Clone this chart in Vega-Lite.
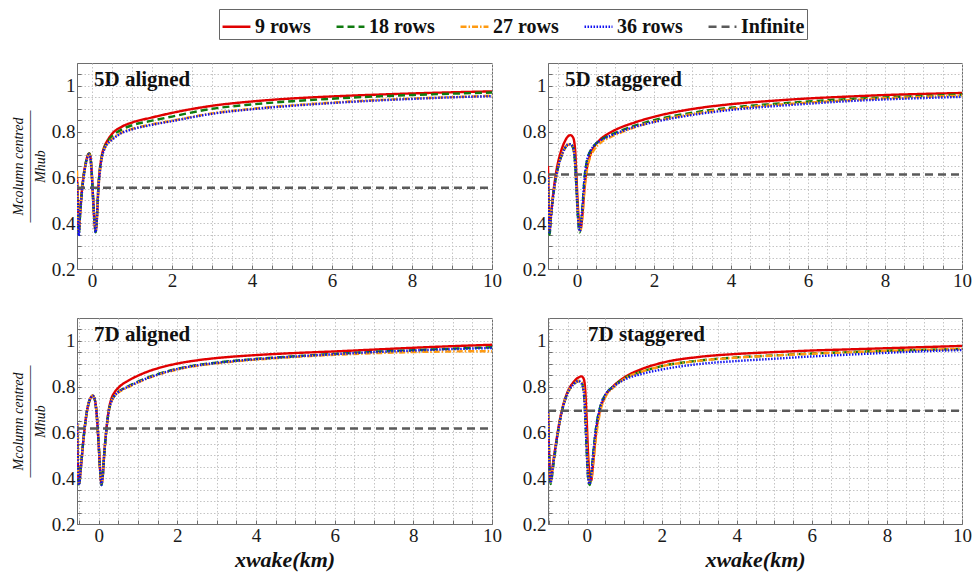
{
"$schema":"https://vega.github.io/schema/vega-lite/v6.json",
"padding":{"left":10,"top":8,"right":4,"bottom":4},
"background":"white",
"data":{"values":[
{"p":"5DA","s":"9 rows","x":-0.375,"y":0.60},{"p":"5DA","s":"9 rows","x":-0.35,"y":0.47},{"p":"5DA","s":"9 rows","x":-0.33,"y":0.37},{"p":"5DA","s":"9 rows","x":-0.3,"y":0.44},{"p":"5DA","s":"9 rows","x":-0.26,"y":0.53},{"p":"5DA","s":"9 rows","x":-0.21,"y":0.61},{"p":"5DA","s":"9 rows","x":-0.16,"y":0.66},{"p":"5DA","s":"9 rows","x":-0.11,"y":0.695},{"p":"5DA","s":"9 rows","x":-0.07,"y":0.705},{"p":"5DA","s":"9 rows","x":-0.04,"y":0.69},{"p":"5DA","s":"9 rows","x":-0.01,"y":0.63},{"p":"5DA","s":"9 rows","x":0.03,"y":0.5},{"p":"5DA","s":"9 rows","x":0.07,"y":0.39},{"p":"5DA","s":"9 rows","x":0.09,"y":0.365},{"p":"5DA","s":"9 rows","x":0.12,"y":0.42},{"p":"5DA","s":"9 rows","x":0.16,"y":0.56},{"p":"5DA","s":"9 rows","x":0.2,"y":0.64},{"p":"5DA","s":"9 rows","x":0.25,"y":0.7},{"p":"5DA","s":"9 rows","x":0.3,"y":0.73},{"p":"5DA","s":"9 rows","x":0.4,"y":0.765},{"p":"5DA","s":"9 rows","x":0.5,"y":0.79},{"p":"5DA","s":"9 rows","x":0.75,"y":0.822},{"p":"5DA","s":"9 rows","x":1,"y":0.84},{"p":"5DA","s":"9 rows","x":1.5,"y":0.862},{"p":"5DA","s":"9 rows","x":2,"y":0.882},{"p":"5DA","s":"9 rows","x":3,"y":0.913},{"p":"5DA","s":"9 rows","x":4,"y":0.932},{"p":"5DA","s":"9 rows","x":5,"y":0.945},{"p":"5DA","s":"9 rows","x":6,"y":0.954},{"p":"5DA","s":"9 rows","x":7,"y":0.961},{"p":"5DA","s":"9 rows","x":8,"y":0.967},{"p":"5DA","s":"9 rows","x":9,"y":0.972},{"p":"5DA","s":"9 rows","x":10,"y":0.976},
{"p":"5DA","s":"18 rows","x":-0.375,"y":0.58},{"p":"5DA","s":"18 rows","x":-0.35,"y":0.45},{"p":"5DA","s":"18 rows","x":-0.33,"y":0.35},{"p":"5DA","s":"18 rows","x":-0.3,"y":0.43},{"p":"5DA","s":"18 rows","x":-0.26,"y":0.52},{"p":"5DA","s":"18 rows","x":-0.21,"y":0.605},{"p":"5DA","s":"18 rows","x":-0.16,"y":0.66},{"p":"5DA","s":"18 rows","x":-0.11,"y":0.695},{"p":"5DA","s":"18 rows","x":-0.07,"y":0.705},{"p":"5DA","s":"18 rows","x":-0.04,"y":0.69},{"p":"5DA","s":"18 rows","x":-0.01,"y":0.63},{"p":"5DA","s":"18 rows","x":0.03,"y":0.5},{"p":"5DA","s":"18 rows","x":0.07,"y":0.39},{"p":"5DA","s":"18 rows","x":0.09,"y":0.36},{"p":"5DA","s":"18 rows","x":0.12,"y":0.42},{"p":"5DA","s":"18 rows","x":0.16,"y":0.56},{"p":"5DA","s":"18 rows","x":0.2,"y":0.64},{"p":"5DA","s":"18 rows","x":0.25,"y":0.695},{"p":"5DA","s":"18 rows","x":0.3,"y":0.725},{"p":"5DA","s":"18 rows","x":0.4,"y":0.76},{"p":"5DA","s":"18 rows","x":0.5,"y":0.78},{"p":"5DA","s":"18 rows","x":0.75,"y":0.81},{"p":"5DA","s":"18 rows","x":1,"y":0.828},{"p":"5DA","s":"18 rows","x":1.5,"y":0.848},{"p":"5DA","s":"18 rows","x":2,"y":0.866},{"p":"5DA","s":"18 rows","x":3,"y":0.9},{"p":"5DA","s":"18 rows","x":4,"y":0.919},{"p":"5DA","s":"18 rows","x":5,"y":0.933},{"p":"5DA","s":"18 rows","x":6,"y":0.944},{"p":"5DA","s":"18 rows","x":7,"y":0.953},{"p":"5DA","s":"18 rows","x":8,"y":0.96},{"p":"5DA","s":"18 rows","x":9,"y":0.966},{"p":"5DA","s":"18 rows","x":10,"y":0.971},
{"p":"5DA","s":"27 rows","x":-0.375,"y":0.63},{"p":"5DA","s":"27 rows","x":-0.35,"y":0.48},{"p":"5DA","s":"27 rows","x":-0.33,"y":0.36},{"p":"5DA","s":"27 rows","x":-0.3,"y":0.43},{"p":"5DA","s":"27 rows","x":-0.26,"y":0.52},{"p":"5DA","s":"27 rows","x":-0.21,"y":0.60},{"p":"5DA","s":"27 rows","x":-0.16,"y":0.655},{"p":"5DA","s":"27 rows","x":-0.11,"y":0.69},{"p":"5DA","s":"27 rows","x":-0.07,"y":0.70},{"p":"5DA","s":"27 rows","x":-0.04,"y":0.685},{"p":"5DA","s":"27 rows","x":-0.01,"y":0.625},{"p":"5DA","s":"27 rows","x":0.03,"y":0.5},{"p":"5DA","s":"27 rows","x":0.07,"y":0.39},{"p":"5DA","s":"27 rows","x":0.09,"y":0.365},{"p":"5DA","s":"27 rows","x":0.12,"y":0.41},{"p":"5DA","s":"27 rows","x":0.16,"y":0.55},{"p":"5DA","s":"27 rows","x":0.2,"y":0.63},{"p":"5DA","s":"27 rows","x":0.25,"y":0.69},{"p":"5DA","s":"27 rows","x":0.3,"y":0.72},{"p":"5DA","s":"27 rows","x":0.4,"y":0.75},{"p":"5DA","s":"27 rows","x":0.5,"y":0.768},{"p":"5DA","s":"27 rows","x":0.75,"y":0.797},{"p":"5DA","s":"27 rows","x":1,"y":0.812},{"p":"5DA","s":"27 rows","x":1.5,"y":0.832},{"p":"5DA","s":"27 rows","x":2,"y":0.848},{"p":"5DA","s":"27 rows","x":3,"y":0.88},{"p":"5DA","s":"27 rows","x":4,"y":0.9},{"p":"5DA","s":"27 rows","x":5,"y":0.915},{"p":"5DA","s":"27 rows","x":6,"y":0.927},{"p":"5DA","s":"27 rows","x":7,"y":0.937},{"p":"5DA","s":"27 rows","x":8,"y":0.945},{"p":"5DA","s":"27 rows","x":9,"y":0.951},{"p":"5DA","s":"27 rows","x":10,"y":0.957},
{"p":"5DA","s":"36 rows","x":-0.375,"y":0.58},{"p":"5DA","s":"36 rows","x":-0.35,"y":0.45},{"p":"5DA","s":"36 rows","x":-0.33,"y":0.345},{"p":"5DA","s":"36 rows","x":-0.3,"y":0.43},{"p":"5DA","s":"36 rows","x":-0.26,"y":0.52},{"p":"5DA","s":"36 rows","x":-0.21,"y":0.60},{"p":"5DA","s":"36 rows","x":-0.16,"y":0.655},{"p":"5DA","s":"36 rows","x":-0.11,"y":0.69},{"p":"5DA","s":"36 rows","x":-0.07,"y":0.70},{"p":"5DA","s":"36 rows","x":-0.04,"y":0.685},{"p":"5DA","s":"36 rows","x":-0.01,"y":0.625},{"p":"5DA","s":"36 rows","x":0.03,"y":0.5},{"p":"5DA","s":"36 rows","x":0.07,"y":0.385},{"p":"5DA","s":"36 rows","x":0.09,"y":0.36},{"p":"5DA","s":"36 rows","x":0.12,"y":0.41},{"p":"5DA","s":"36 rows","x":0.16,"y":0.55},{"p":"5DA","s":"36 rows","x":0.2,"y":0.63},{"p":"5DA","s":"36 rows","x":0.25,"y":0.69},{"p":"5DA","s":"36 rows","x":0.3,"y":0.72},{"p":"5DA","s":"36 rows","x":0.4,"y":0.75},{"p":"5DA","s":"36 rows","x":0.5,"y":0.765},{"p":"5DA","s":"36 rows","x":0.75,"y":0.795},{"p":"5DA","s":"36 rows","x":1,"y":0.81},{"p":"5DA","s":"36 rows","x":1.5,"y":0.83},{"p":"5DA","s":"36 rows","x":2,"y":0.846},{"p":"5DA","s":"36 rows","x":3,"y":0.878},{"p":"5DA","s":"36 rows","x":4,"y":0.898},{"p":"5DA","s":"36 rows","x":5,"y":0.913},{"p":"5DA","s":"36 rows","x":6,"y":0.925},{"p":"5DA","s":"36 rows","x":7,"y":0.935},{"p":"5DA","s":"36 rows","x":8,"y":0.943},{"p":"5DA","s":"36 rows","x":9,"y":0.95},{"p":"5DA","s":"36 rows","x":10,"y":0.955},
{"p":"5DA","s":"Infinite","x":-0.375,"y":0.555},{"p":"5DA","s":"Infinite","x":10,"y":0.555},

{"p":"5DS","s":"9 rows","x":-0.75,"y":0.65},{"p":"5DS","s":"9 rows","x":-0.73,"y":0.46},{"p":"5DS","s":"9 rows","x":-0.71,"y":0.37},{"p":"5DS","s":"9 rows","x":-0.67,"y":0.44},{"p":"5DS","s":"9 rows","x":-0.6,"y":0.55},{"p":"5DS","s":"9 rows","x":-0.52,"y":0.64},{"p":"5DS","s":"9 rows","x":-0.42,"y":0.71},{"p":"5DS","s":"9 rows","x":-0.32,"y":0.755},{"p":"5DS","s":"9 rows","x":-0.24,"y":0.778},{"p":"5DS","s":"9 rows","x":-0.17,"y":0.785},{"p":"5DS","s":"9 rows","x":-0.1,"y":0.775},{"p":"5DS","s":"9 rows","x":-0.05,"y":0.73},{"p":"5DS","s":"9 rows","x":-0.01,"y":0.6},{"p":"5DS","s":"9 rows","x":0.03,"y":0.46},{"p":"5DS","s":"9 rows","x":0.07,"y":0.39},{"p":"5DS","s":"9 rows","x":0.1,"y":0.38},{"p":"5DS","s":"9 rows","x":0.14,"y":0.43},{"p":"5DS","s":"9 rows","x":0.2,"y":0.56},{"p":"5DS","s":"9 rows","x":0.27,"y":0.65},{"p":"5DS","s":"9 rows","x":0.35,"y":0.70},{"p":"5DS","s":"9 rows","x":0.45,"y":0.735},{"p":"5DS","s":"9 rows","x":0.6,"y":0.765},{"p":"5DS","s":"9 rows","x":0.8,"y":0.79},{"p":"5DS","s":"9 rows","x":1,"y":0.808},{"p":"5DS","s":"9 rows","x":1.5,"y":0.84},{"p":"5DS","s":"9 rows","x":2,"y":0.865},{"p":"5DS","s":"9 rows","x":2.5,"y":0.884},{"p":"5DS","s":"9 rows","x":3,"y":0.899},{"p":"5DS","s":"9 rows","x":4,"y":0.92},{"p":"5DS","s":"9 rows","x":5,"y":0.934},{"p":"5DS","s":"9 rows","x":6,"y":0.945},{"p":"5DS","s":"9 rows","x":7,"y":0.953},{"p":"5DS","s":"9 rows","x":8,"y":0.96},{"p":"5DS","s":"9 rows","x":9,"y":0.965},{"p":"5DS","s":"9 rows","x":10,"y":0.969},
{"p":"5DS","s":"18 rows","x":-0.75,"y":0.6},{"p":"5DS","s":"18 rows","x":-0.73,"y":0.45},{"p":"5DS","s":"18 rows","x":-0.71,"y":0.35},{"p":"5DS","s":"18 rows","x":-0.67,"y":0.43},{"p":"5DS","s":"18 rows","x":-0.6,"y":0.54},{"p":"5DS","s":"18 rows","x":-0.52,"y":0.62},{"p":"5DS","s":"18 rows","x":-0.42,"y":0.685},{"p":"5DS","s":"18 rows","x":-0.32,"y":0.725},{"p":"5DS","s":"18 rows","x":-0.24,"y":0.742},{"p":"5DS","s":"18 rows","x":-0.17,"y":0.745},{"p":"5DS","s":"18 rows","x":-0.1,"y":0.73},{"p":"5DS","s":"18 rows","x":-0.05,"y":0.67},{"p":"5DS","s":"18 rows","x":-0.01,"y":0.55},{"p":"5DS","s":"18 rows","x":0.03,"y":0.42},{"p":"5DS","s":"18 rows","x":0.07,"y":0.36},{"p":"5DS","s":"18 rows","x":0.1,"y":0.38},{"p":"5DS","s":"18 rows","x":0.14,"y":0.46},{"p":"5DS","s":"18 rows","x":0.2,"y":0.6},{"p":"5DS","s":"18 rows","x":0.27,"y":0.68},{"p":"5DS","s":"18 rows","x":0.35,"y":0.715},{"p":"5DS","s":"18 rows","x":0.45,"y":0.74},{"p":"5DS","s":"18 rows","x":0.6,"y":0.762},{"p":"5DS","s":"18 rows","x":0.8,"y":0.78},{"p":"5DS","s":"18 rows","x":1,"y":0.795},{"p":"5DS","s":"18 rows","x":1.5,"y":0.826},{"p":"5DS","s":"18 rows","x":2,"y":0.85},{"p":"5DS","s":"18 rows","x":3,"y":0.883},{"p":"5DS","s":"18 rows","x":4,"y":0.905},{"p":"5DS","s":"18 rows","x":5,"y":0.92},{"p":"5DS","s":"18 rows","x":6,"y":0.932},{"p":"5DS","s":"18 rows","x":7,"y":0.942},{"p":"5DS","s":"18 rows","x":8,"y":0.95},{"p":"5DS","s":"18 rows","x":9,"y":0.956},{"p":"5DS","s":"18 rows","x":10,"y":0.962},
{"p":"5DS","s":"27 rows","x":-0.75,"y":0.6},{"p":"5DS","s":"27 rows","x":-0.73,"y":0.46},{"p":"5DS","s":"27 rows","x":-0.71,"y":0.37},{"p":"5DS","s":"27 rows","x":-0.67,"y":0.44},{"p":"5DS","s":"27 rows","x":-0.6,"y":0.54},{"p":"5DS","s":"27 rows","x":-0.52,"y":0.62},{"p":"5DS","s":"27 rows","x":-0.42,"y":0.685},{"p":"5DS","s":"27 rows","x":-0.32,"y":0.725},{"p":"5DS","s":"27 rows","x":-0.24,"y":0.742},{"p":"5DS","s":"27 rows","x":-0.17,"y":0.745},{"p":"5DS","s":"27 rows","x":-0.1,"y":0.73},{"p":"5DS","s":"27 rows","x":-0.05,"y":0.67},{"p":"5DS","s":"27 rows","x":-0.01,"y":0.55},{"p":"5DS","s":"27 rows","x":0.03,"y":0.43},{"p":"5DS","s":"27 rows","x":0.07,"y":0.37},{"p":"5DS","s":"27 rows","x":0.1,"y":0.37},{"p":"5DS","s":"27 rows","x":0.14,"y":0.42},{"p":"5DS","s":"27 rows","x":0.2,"y":0.55},{"p":"5DS","s":"27 rows","x":0.27,"y":0.64},{"p":"5DS","s":"27 rows","x":0.35,"y":0.69},{"p":"5DS","s":"27 rows","x":0.45,"y":0.722},{"p":"5DS","s":"27 rows","x":0.6,"y":0.75},{"p":"5DS","s":"27 rows","x":0.8,"y":0.77},{"p":"5DS","s":"27 rows","x":1,"y":0.786},{"p":"5DS","s":"27 rows","x":1.5,"y":0.819},{"p":"5DS","s":"27 rows","x":2,"y":0.844},{"p":"5DS","s":"27 rows","x":3,"y":0.877},{"p":"5DS","s":"27 rows","x":4,"y":0.9},{"p":"5DS","s":"27 rows","x":5,"y":0.915},{"p":"5DS","s":"27 rows","x":6,"y":0.927},{"p":"5DS","s":"27 rows","x":7,"y":0.937},{"p":"5DS","s":"27 rows","x":8,"y":0.946},{"p":"5DS","s":"27 rows","x":9,"y":0.952},{"p":"5DS","s":"27 rows","x":10,"y":0.958},
{"p":"5DS","s":"36 rows","x":-0.75,"y":0.6},{"p":"5DS","s":"36 rows","x":-0.73,"y":0.45},{"p":"5DS","s":"36 rows","x":-0.71,"y":0.36},{"p":"5DS","s":"36 rows","x":-0.67,"y":0.43},{"p":"5DS","s":"36 rows","x":-0.6,"y":0.54},{"p":"5DS","s":"36 rows","x":-0.52,"y":0.62},{"p":"5DS","s":"36 rows","x":-0.42,"y":0.685},{"p":"5DS","s":"36 rows","x":-0.32,"y":0.725},{"p":"5DS","s":"36 rows","x":-0.24,"y":0.742},{"p":"5DS","s":"36 rows","x":-0.17,"y":0.745},{"p":"5DS","s":"36 rows","x":-0.1,"y":0.73},{"p":"5DS","s":"36 rows","x":-0.05,"y":0.67},{"p":"5DS","s":"36 rows","x":-0.01,"y":0.55},{"p":"5DS","s":"36 rows","x":0.03,"y":0.42},{"p":"5DS","s":"36 rows","x":0.07,"y":0.365},{"p":"5DS","s":"36 rows","x":0.1,"y":0.38},{"p":"5DS","s":"36 rows","x":0.14,"y":0.46},{"p":"5DS","s":"36 rows","x":0.2,"y":0.6},{"p":"5DS","s":"36 rows","x":0.27,"y":0.68},{"p":"5DS","s":"36 rows","x":0.35,"y":0.715},{"p":"5DS","s":"36 rows","x":0.45,"y":0.74},{"p":"5DS","s":"36 rows","x":0.6,"y":0.76},{"p":"5DS","s":"36 rows","x":0.8,"y":0.777},{"p":"5DS","s":"36 rows","x":1,"y":0.791},{"p":"5DS","s":"36 rows","x":1.5,"y":0.821},{"p":"5DS","s":"36 rows","x":2,"y":0.842},{"p":"5DS","s":"36 rows","x":3,"y":0.873},{"p":"5DS","s":"36 rows","x":4,"y":0.895},{"p":"5DS","s":"36 rows","x":5,"y":0.91},{"p":"5DS","s":"36 rows","x":6,"y":0.922},{"p":"5DS","s":"36 rows","x":7,"y":0.933},{"p":"5DS","s":"36 rows","x":8,"y":0.941},{"p":"5DS","s":"36 rows","x":9,"y":0.947},{"p":"5DS","s":"36 rows","x":10,"y":0.952},
{"p":"5DS","s":"Infinite","x":-0.75,"y":0.613},{"p":"5DS","s":"Infinite","x":10,"y":0.613},

{"p":"7DA","s":"9 rows","x":-0.55,"y":0.64},{"p":"7DA","s":"9 rows","x":-0.53,"y":0.48},{"p":"7DA","s":"9 rows","x":-0.5,"y":0.38},{"p":"7DA","s":"9 rows","x":-0.45,"y":0.45},{"p":"7DA","s":"9 rows","x":-0.38,"y":0.58},{"p":"7DA","s":"9 rows","x":-0.3,"y":0.69},{"p":"7DA","s":"9 rows","x":-0.22,"y":0.745},{"p":"7DA","s":"9 rows","x":-0.15,"y":0.76},{"p":"7DA","s":"9 rows","x":-0.1,"y":0.745},{"p":"7DA","s":"9 rows","x":-0.05,"y":0.68},{"p":"7DA","s":"9 rows","x":0,"y":0.55},{"p":"7DA","s":"9 rows","x":0.04,"y":0.43},{"p":"7DA","s":"9 rows","x":0.07,"y":0.38},{"p":"7DA","s":"9 rows","x":0.1,"y":0.4},{"p":"7DA","s":"9 rows","x":0.14,"y":0.5},{"p":"7DA","s":"9 rows","x":0.19,"y":0.6},{"p":"7DA","s":"9 rows","x":0.25,"y":0.69},{"p":"7DA","s":"9 rows","x":0.32,"y":0.745},{"p":"7DA","s":"9 rows","x":0.4,"y":0.774},{"p":"7DA","s":"9 rows","x":0.5,"y":0.795},{"p":"7DA","s":"9 rows","x":0.75,"y":0.826},{"p":"7DA","s":"9 rows","x":1,"y":0.848},{"p":"7DA","s":"9 rows","x":1.25,"y":0.866},{"p":"7DA","s":"9 rows","x":1.5,"y":0.88},{"p":"7DA","s":"9 rows","x":2,"y":0.901},{"p":"7DA","s":"9 rows","x":2.5,"y":0.915},{"p":"7DA","s":"9 rows","x":3,"y":0.925},{"p":"7DA","s":"9 rows","x":4,"y":0.938},{"p":"7DA","s":"9 rows","x":5,"y":0.947},{"p":"7DA","s":"9 rows","x":6,"y":0.954},{"p":"7DA","s":"9 rows","x":7,"y":0.962},{"p":"7DA","s":"9 rows","x":8,"y":0.97},{"p":"7DA","s":"9 rows","x":9,"y":0.977},{"p":"7DA","s":"9 rows","x":10,"y":0.983},
{"p":"7DA","s":"18 rows","x":-0.55,"y":0.64},{"p":"7DA","s":"18 rows","x":-0.53,"y":0.48},{"p":"7DA","s":"18 rows","x":-0.5,"y":0.365},{"p":"7DA","s":"18 rows","x":-0.45,"y":0.45},{"p":"7DA","s":"18 rows","x":-0.38,"y":0.58},{"p":"7DA","s":"18 rows","x":-0.3,"y":0.69},{"p":"7DA","s":"18 rows","x":-0.22,"y":0.745},{"p":"7DA","s":"18 rows","x":-0.15,"y":0.76},{"p":"7DA","s":"18 rows","x":-0.1,"y":0.745},{"p":"7DA","s":"18 rows","x":-0.05,"y":0.68},{"p":"7DA","s":"18 rows","x":0,"y":0.55},{"p":"7DA","s":"18 rows","x":0.04,"y":0.43},{"p":"7DA","s":"18 rows","x":0.07,"y":0.37},{"p":"7DA","s":"18 rows","x":0.1,"y":0.4},{"p":"7DA","s":"18 rows","x":0.14,"y":0.5},{"p":"7DA","s":"18 rows","x":0.19,"y":0.6},{"p":"7DA","s":"18 rows","x":0.25,"y":0.685},{"p":"7DA","s":"18 rows","x":0.32,"y":0.735},{"p":"7DA","s":"18 rows","x":0.4,"y":0.76},{"p":"7DA","s":"18 rows","x":0.5,"y":0.777},{"p":"7DA","s":"18 rows","x":0.75,"y":0.802},{"p":"7DA","s":"18 rows","x":1,"y":0.822},{"p":"7DA","s":"18 rows","x":1.25,"y":0.84},{"p":"7DA","s":"18 rows","x":1.5,"y":0.855},{"p":"7DA","s":"18 rows","x":2,"y":0.878},{"p":"7DA","s":"18 rows","x":2.5,"y":0.894},{"p":"7DA","s":"18 rows","x":3,"y":0.905},{"p":"7DA","s":"18 rows","x":4,"y":0.921},{"p":"7DA","s":"18 rows","x":5,"y":0.933},{"p":"7DA","s":"18 rows","x":6,"y":0.943},{"p":"7DA","s":"18 rows","x":7,"y":0.952},{"p":"7DA","s":"18 rows","x":8,"y":0.959},{"p":"7DA","s":"18 rows","x":9,"y":0.966},{"p":"7DA","s":"18 rows","x":10,"y":0.972},
{"p":"7DA","s":"27 rows","x":-0.55,"y":0.64},{"p":"7DA","s":"27 rows","x":-0.53,"y":0.48},{"p":"7DA","s":"27 rows","x":-0.5,"y":0.375},{"p":"7DA","s":"27 rows","x":-0.45,"y":0.45},{"p":"7DA","s":"27 rows","x":-0.38,"y":0.58},{"p":"7DA","s":"27 rows","x":-0.3,"y":0.69},{"p":"7DA","s":"27 rows","x":-0.22,"y":0.745},{"p":"7DA","s":"27 rows","x":-0.15,"y":0.76},{"p":"7DA","s":"27 rows","x":-0.1,"y":0.745},{"p":"7DA","s":"27 rows","x":-0.05,"y":0.68},{"p":"7DA","s":"27 rows","x":0,"y":0.55},{"p":"7DA","s":"27 rows","x":0.04,"y":0.43},{"p":"7DA","s":"27 rows","x":0.07,"y":0.375},{"p":"7DA","s":"27 rows","x":0.1,"y":0.4},{"p":"7DA","s":"27 rows","x":0.14,"y":0.5},{"p":"7DA","s":"27 rows","x":0.19,"y":0.6},{"p":"7DA","s":"27 rows","x":0.25,"y":0.685},{"p":"7DA","s":"27 rows","x":0.32,"y":0.733},{"p":"7DA","s":"27 rows","x":0.4,"y":0.758},{"p":"7DA","s":"27 rows","x":0.5,"y":0.774},{"p":"7DA","s":"27 rows","x":0.75,"y":0.798},{"p":"7DA","s":"27 rows","x":1,"y":0.818},{"p":"7DA","s":"27 rows","x":1.25,"y":0.836},{"p":"7DA","s":"27 rows","x":1.5,"y":0.851},{"p":"7DA","s":"27 rows","x":2,"y":0.875},{"p":"7DA","s":"27 rows","x":2.5,"y":0.891},{"p":"7DA","s":"27 rows","x":3,"y":0.902},{"p":"7DA","s":"27 rows","x":4,"y":0.918},{"p":"7DA","s":"27 rows","x":5,"y":0.93},{"p":"7DA","s":"27 rows","x":6,"y":0.939},{"p":"7DA","s":"27 rows","x":7,"y":0.946},{"p":"7DA","s":"27 rows","x":8,"y":0.951},{"p":"7DA","s":"27 rows","x":9,"y":0.954},{"p":"7DA","s":"27 rows","x":10,"y":0.955},
{"p":"7DA","s":"36 rows","x":-0.55,"y":0.64},{"p":"7DA","s":"36 rows","x":-0.53,"y":0.48},{"p":"7DA","s":"36 rows","x":-0.5,"y":0.37},{"p":"7DA","s":"36 rows","x":-0.45,"y":0.45},{"p":"7DA","s":"36 rows","x":-0.38,"y":0.58},{"p":"7DA","s":"36 rows","x":-0.3,"y":0.69},{"p":"7DA","s":"36 rows","x":-0.22,"y":0.745},{"p":"7DA","s":"36 rows","x":-0.15,"y":0.76},{"p":"7DA","s":"36 rows","x":-0.1,"y":0.745},{"p":"7DA","s":"36 rows","x":-0.05,"y":0.68},{"p":"7DA","s":"36 rows","x":0,"y":0.55},{"p":"7DA","s":"36 rows","x":0.04,"y":0.43},{"p":"7DA","s":"36 rows","x":0.07,"y":0.37},{"p":"7DA","s":"36 rows","x":0.1,"y":0.4},{"p":"7DA","s":"36 rows","x":0.14,"y":0.5},{"p":"7DA","s":"36 rows","x":0.19,"y":0.6},{"p":"7DA","s":"36 rows","x":0.25,"y":0.685},{"p":"7DA","s":"36 rows","x":0.32,"y":0.734},{"p":"7DA","s":"36 rows","x":0.4,"y":0.759},{"p":"7DA","s":"36 rows","x":0.5,"y":0.776},{"p":"7DA","s":"36 rows","x":0.75,"y":0.8},{"p":"7DA","s":"36 rows","x":1,"y":0.82},{"p":"7DA","s":"36 rows","x":1.25,"y":0.838},{"p":"7DA","s":"36 rows","x":1.5,"y":0.853},{"p":"7DA","s":"36 rows","x":2,"y":0.877},{"p":"7DA","s":"36 rows","x":2.5,"y":0.893},{"p":"7DA","s":"36 rows","x":3,"y":0.904},{"p":"7DA","s":"36 rows","x":4,"y":0.92},{"p":"7DA","s":"36 rows","x":5,"y":0.932},{"p":"7DA","s":"36 rows","x":6,"y":0.942},{"p":"7DA","s":"36 rows","x":7,"y":0.951},{"p":"7DA","s":"36 rows","x":8,"y":0.958},{"p":"7DA","s":"36 rows","x":9,"y":0.964},{"p":"7DA","s":"36 rows","x":10,"y":0.969},
{"p":"7DA","s":"Infinite","x":-0.55,"y":0.617},{"p":"7DA","s":"Infinite","x":10,"y":0.617},

{"p":"7DS","s":"9 rows","x":-1.03,"y":0.69},{"p":"7DS","s":"9 rows","x":-1.0,"y":0.5},{"p":"7DS","s":"9 rows","x":-0.96,"y":0.39},{"p":"7DS","s":"9 rows","x":-0.9,"y":0.46},{"p":"7DS","s":"9 rows","x":-0.81,"y":0.56},{"p":"7DS","s":"9 rows","x":-0.72,"y":0.65},{"p":"7DS","s":"9 rows","x":-0.64,"y":0.71},{"p":"7DS","s":"9 rows","x":-0.5,"y":0.78},{"p":"7DS","s":"9 rows","x":-0.35,"y":0.82},{"p":"7DS","s":"9 rows","x":-0.22,"y":0.84},{"p":"7DS","s":"9 rows","x":-0.14,"y":0.845},{"p":"7DS","s":"9 rows","x":-0.08,"y":0.835},{"p":"7DS","s":"9 rows","x":-0.04,"y":0.79},{"p":"7DS","s":"9 rows","x":0,"y":0.66},{"p":"7DS","s":"9 rows","x":0.04,"y":0.5},{"p":"7DS","s":"9 rows","x":0.08,"y":0.41},{"p":"7DS","s":"9 rows","x":0.12,"y":0.39},{"p":"7DS","s":"9 rows","x":0.17,"y":0.46},{"p":"7DS","s":"9 rows","x":0.25,"y":0.6},{"p":"7DS","s":"9 rows","x":0.36,"y":0.7},{"p":"7DS","s":"9 rows","x":0.5,"y":0.76},{"p":"7DS","s":"9 rows","x":0.7,"y":0.8},{"p":"7DS","s":"9 rows","x":1,"y":0.84},{"p":"7DS","s":"9 rows","x":1.5,"y":0.879},{"p":"7DS","s":"9 rows","x":2,"y":0.904},{"p":"7DS","s":"9 rows","x":3,"y":0.93},{"p":"7DS","s":"9 rows","x":4,"y":0.943},{"p":"7DS","s":"9 rows","x":5,"y":0.951},{"p":"7DS","s":"9 rows","x":6,"y":0.958},{"p":"7DS","s":"9 rows","x":7,"y":0.963},{"p":"7DS","s":"9 rows","x":8,"y":0.968},{"p":"7DS","s":"9 rows","x":9,"y":0.973},{"p":"7DS","s":"9 rows","x":10,"y":0.978},
{"p":"7DS","s":"18 rows","x":-1.03,"y":0.69},{"p":"7DS","s":"18 rows","x":-1.0,"y":0.5},{"p":"7DS","s":"18 rows","x":-0.96,"y":0.375},{"p":"7DS","s":"18 rows","x":-0.9,"y":0.44},{"p":"7DS","s":"18 rows","x":-0.81,"y":0.55},{"p":"7DS","s":"18 rows","x":-0.72,"y":0.645},{"p":"7DS","s":"18 rows","x":-0.64,"y":0.705},{"p":"7DS","s":"18 rows","x":-0.5,"y":0.775},{"p":"7DS","s":"18 rows","x":-0.35,"y":0.81},{"p":"7DS","s":"18 rows","x":-0.22,"y":0.825},{"p":"7DS","s":"18 rows","x":-0.14,"y":0.82},{"p":"7DS","s":"18 rows","x":-0.08,"y":0.78},{"p":"7DS","s":"18 rows","x":-0.04,"y":0.68},{"p":"7DS","s":"18 rows","x":0,"y":0.52},{"p":"7DS","s":"18 rows","x":0.04,"y":0.4},{"p":"7DS","s":"18 rows","x":0.08,"y":0.37},{"p":"7DS","s":"18 rows","x":0.12,"y":0.41},{"p":"7DS","s":"18 rows","x":0.17,"y":0.5},{"p":"7DS","s":"18 rows","x":0.25,"y":0.62},{"p":"7DS","s":"18 rows","x":0.36,"y":0.71},{"p":"7DS","s":"18 rows","x":0.5,"y":0.765},{"p":"7DS","s":"18 rows","x":0.7,"y":0.8},{"p":"7DS","s":"18 rows","x":1,"y":0.836},{"p":"7DS","s":"18 rows","x":1.5,"y":0.868},{"p":"7DS","s":"18 rows","x":2,"y":0.89},{"p":"7DS","s":"18 rows","x":3,"y":0.914},{"p":"7DS","s":"18 rows","x":4,"y":0.928},{"p":"7DS","s":"18 rows","x":5,"y":0.937},{"p":"7DS","s":"18 rows","x":6,"y":0.945},{"p":"7DS","s":"18 rows","x":7,"y":0.951},{"p":"7DS","s":"18 rows","x":8,"y":0.957},{"p":"7DS","s":"18 rows","x":9,"y":0.961},{"p":"7DS","s":"18 rows","x":10,"y":0.965},
{"p":"7DS","s":"27 rows","x":-1.03,"y":0.69},{"p":"7DS","s":"27 rows","x":-1.0,"y":0.5},{"p":"7DS","s":"27 rows","x":-0.96,"y":0.385},{"p":"7DS","s":"27 rows","x":-0.9,"y":0.45},{"p":"7DS","s":"27 rows","x":-0.81,"y":0.555},{"p":"7DS","s":"27 rows","x":-0.72,"y":0.645},{"p":"7DS","s":"27 rows","x":-0.64,"y":0.705},{"p":"7DS","s":"27 rows","x":-0.5,"y":0.775},{"p":"7DS","s":"27 rows","x":-0.35,"y":0.81},{"p":"7DS","s":"27 rows","x":-0.22,"y":0.825},{"p":"7DS","s":"27 rows","x":-0.14,"y":0.82},{"p":"7DS","s":"27 rows","x":-0.08,"y":0.79},{"p":"7DS","s":"27 rows","x":-0.04,"y":0.7},{"p":"7DS","s":"27 rows","x":0,"y":0.55},{"p":"7DS","s":"27 rows","x":0.04,"y":0.42},{"p":"7DS","s":"27 rows","x":0.08,"y":0.38},{"p":"7DS","s":"27 rows","x":0.12,"y":0.39},{"p":"7DS","s":"27 rows","x":0.17,"y":0.46},{"p":"7DS","s":"27 rows","x":0.25,"y":0.58},{"p":"7DS","s":"27 rows","x":0.36,"y":0.69},{"p":"7DS","s":"27 rows","x":0.5,"y":0.755},{"p":"7DS","s":"27 rows","x":0.7,"y":0.795},{"p":"7DS","s":"27 rows","x":1,"y":0.834},{"p":"7DS","s":"27 rows","x":1.5,"y":0.867},{"p":"7DS","s":"27 rows","x":2,"y":0.889},{"p":"7DS","s":"27 rows","x":3,"y":0.913},{"p":"7DS","s":"27 rows","x":4,"y":0.927},{"p":"7DS","s":"27 rows","x":5,"y":0.936},{"p":"7DS","s":"27 rows","x":6,"y":0.944},{"p":"7DS","s":"27 rows","x":7,"y":0.95},{"p":"7DS","s":"27 rows","x":8,"y":0.956},{"p":"7DS","s":"27 rows","x":9,"y":0.961},{"p":"7DS","s":"27 rows","x":10,"y":0.965},
{"p":"7DS","s":"36 rows","x":-1.03,"y":0.69},{"p":"7DS","s":"36 rows","x":-1.0,"y":0.5},{"p":"7DS","s":"36 rows","x":-0.96,"y":0.38},{"p":"7DS","s":"36 rows","x":-0.9,"y":0.45},{"p":"7DS","s":"36 rows","x":-0.81,"y":0.555},{"p":"7DS","s":"36 rows","x":-0.72,"y":0.645},{"p":"7DS","s":"36 rows","x":-0.64,"y":0.705},{"p":"7DS","s":"36 rows","x":-0.5,"y":0.775},{"p":"7DS","s":"36 rows","x":-0.35,"y":0.81},{"p":"7DS","s":"36 rows","x":-0.22,"y":0.825},{"p":"7DS","s":"36 rows","x":-0.14,"y":0.815},{"p":"7DS","s":"36 rows","x":-0.08,"y":0.78},{"p":"7DS","s":"36 rows","x":-0.04,"y":0.68},{"p":"7DS","s":"36 rows","x":0,"y":0.52},{"p":"7DS","s":"36 rows","x":0.04,"y":0.4},{"p":"7DS","s":"36 rows","x":0.08,"y":0.375},{"p":"7DS","s":"36 rows","x":0.12,"y":0.41},{"p":"7DS","s":"36 rows","x":0.17,"y":0.5},{"p":"7DS","s":"36 rows","x":0.25,"y":0.62},{"p":"7DS","s":"36 rows","x":0.36,"y":0.71},{"p":"7DS","s":"36 rows","x":0.5,"y":0.765},{"p":"7DS","s":"36 rows","x":0.7,"y":0.798},{"p":"7DS","s":"36 rows","x":1,"y":0.83},{"p":"7DS","s":"36 rows","x":1.5,"y":0.857},{"p":"7DS","s":"36 rows","x":2,"y":0.875},{"p":"7DS","s":"36 rows","x":3,"y":0.899},{"p":"7DS","s":"36 rows","x":4,"y":0.912},{"p":"7DS","s":"36 rows","x":5,"y":0.922},{"p":"7DS","s":"36 rows","x":6,"y":0.932},{"p":"7DS","s":"36 rows","x":7,"y":0.94},{"p":"7DS","s":"36 rows","x":8,"y":0.948},{"p":"7DS","s":"36 rows","x":9,"y":0.955},{"p":"7DS","s":"36 rows","x":10,"y":0.96},
{"p":"7DS","s":"Infinite","x":-1.03,"y":0.695},{"p":"7DS","s":"Infinite","x":10,"y":0.695}
]},
"config":{
"view":{"stroke":"#6e6e6e","strokeWidth":1},
"axis":{"labelFont":"Liberation Serif","labelFontSize":19,"labelColor":"#1a1a1a","domainColor":"#6e6e6e","tickColor":"#6e6e6e","tickSize":-4,"labelPadding":6,"grid":true,"gridColor":"#c4c4c4","gridDash":[1.5,2],"gridWidth":1,"format":"~g","labelFlush":false,"labelOverlap":false},
"title":{"font":"Liberation Serif","fontSize":21,"fontWeight":"bold","color":"#111","anchor":"start","frame":"group","offset":-27,"baseline":"alphabetic","dx":17},
"legend":{"symbolType":"stroke","symbolSize":780,"symbolStrokeWidth":2.5,"labelFont":"Liberation Serif","labelFontSize":20,"labelFontWeight":"bold","labelColor":"#111","strokeColor":"#666","fillColor":"white","padding":2,"columnPadding":20,"labelOffset":3}
},
"spacing":26,
"vconcat":[
{"hconcat":[
{"width":415,"height":206,"title":{"text":"5D aligned"},
"transform":[{"filter":"datum.p=='5DA'"}],
"mark":{"type":"line","clip":true,"interpolate":"monotone"},
"encoding":{
"x":{"field":"x","type":"quantitative","scale":{"domain":[-0.375,10],"nice":false,"zero":false},"axis":{"title":null,"values":[0,0.5,1,1.5,2,2.5,3,3.5,4,4.5,5,5.5,6,6.5,7,7.5,8,8.5,9,9.5,10],"labelExpr":"datum.value % 2 == 0 ? datum.label : ''"}},
"y":{"field":"y","type":"quantitative","scale":{"domain":[0.2,1.1],"nice":false,"zero":false},"axis":{"title":["Mcolumn centred","――――――――","Mhub"],"titleFont":"Liberation Serif","titleFontStyle":"italic","titleFontWeight":"normal","titleFontSize":14,"titleLineHeight":11,"titlePadding":4,"titleColor":"#111","values":[0.2,0.25,0.3,0.35,0.4,0.45,0.5,0.55,0.6,0.65,0.7,0.75,0.8,0.85,0.9,0.95,1,1.05],"labelExpr":"indexof([0.2,0.4,0.6,0.8,1], datum.value) >= 0 ? datum.label : ''"}},
"color":{"field":"s","type":"nominal","scale":{"domain":["9 rows","18 rows","27 rows","36 rows","Infinite"],"range":["#e00000","#0f7a0f","#ff9a10","#1010f0","#5a5a5a"]},"legend":{"orient":"none","direction":"horizontal","legendX":142,"legendY":-54,"title":null}},
"strokeDash":{"field":"s","type":"nominal","scale":{"domain":["9 rows","18 rows","27 rows","36 rows","Infinite"],"range":[[1,0],[7,4],[6,2,1.5,2],[1.5,1.5],[8,5]]},"legend":{"orient":"none","direction":"horizontal","legendX":142,"legendY":-54,"title":null}},
"strokeWidth":{"field":"s","type":"nominal","scale":{"domain":["9 rows","18 rows","27 rows","36 rows","Infinite"],"range":[2.4,2.4,2,2.2,1.2]},"legend":null}
}},
{"width":414,"height":206,"title":{"text":"5D staggered"},
"transform":[{"filter":"datum.p=='5DS'"}],
"mark":{"type":"line","clip":true,"interpolate":"monotone"},
"encoding":{
"x":{"field":"x","type":"quantitative","scale":{"domain":[-0.75,10],"nice":false,"zero":false},"axis":{"title":null,"values":[-0.5,0,0.5,1,1.5,2,2.5,3,3.5,4,4.5,5,5.5,6,6.5,7,7.5,8,8.5,9,9.5,10],"labelExpr":"datum.value % 2 == 0 ? datum.label : ''"}},
"y":{"field":"y","type":"quantitative","scale":{"domain":[0.2,1.1],"nice":false,"zero":false},"axis":{"title":null,"values":[0.2,0.25,0.3,0.35,0.4,0.45,0.5,0.55,0.6,0.65,0.7,0.75,0.8,0.85,0.9,0.95,1,1.05],"labelExpr":"indexof([0.2,0.4,0.6,0.8,1], datum.value) >= 0 ? datum.label : ''"}},
"color":{"field":"s","type":"nominal","scale":{"domain":["9 rows","18 rows","27 rows","36 rows","Infinite"],"range":["#e00000","#0f7a0f","#ff9a10","#1010f0","#5a5a5a"]},"legend":{"orient":"none","direction":"horizontal","legendX":142,"legendY":-54,"title":null}},
"strokeDash":{"field":"s","type":"nominal","scale":{"domain":["9 rows","18 rows","27 rows","36 rows","Infinite"],"range":[[1,0],[7,4],[6,2,1.5,2],[1.5,1.5],[8,5]]},"legend":{"orient":"none","direction":"horizontal","legendX":142,"legendY":-54,"title":null}},
"strokeWidth":{"field":"s","type":"nominal","scale":{"domain":["9 rows","18 rows","27 rows","36 rows","Infinite"],"range":[2.4,2.4,2,2.2,1.2]},"legend":null}
}}
],"spacing":19,"resolve":{"scale":{"x":"independent","y":"independent"}}},
{"hconcat":[
{"width":415,"height":206,"title":{"text":"7D aligned"},
"transform":[{"filter":"datum.p=='7DA'"}],
"mark":{"type":"line","clip":true,"interpolate":"monotone"},
"encoding":{
"x":{"field":"x","type":"quantitative","scale":{"domain":[-0.55,10],"nice":false,"zero":false},"axis":{"title":"xwake(km)","titleFont":"Liberation Serif","titleFontSize":22,"titleFontStyle":"italic","titleFontWeight":"bold","titleColor":"#111","titlePadding":4,"values":[-0.5,0,0.5,1,1.5,2,2.5,3,3.5,4,4.5,5,5.5,6,6.5,7,7.5,8,8.5,9,9.5,10],"labelExpr":"datum.value % 2 == 0 ? datum.label : ''"}},
"y":{"field":"y","type":"quantitative","scale":{"domain":[0.2,1.1],"nice":false,"zero":false},"axis":{"title":["Mcolumn centred","――――――――","Mhub"],"titleFont":"Liberation Serif","titleFontStyle":"italic","titleFontWeight":"normal","titleFontSize":14,"titleLineHeight":11,"titlePadding":4,"titleColor":"#111","values":[0.2,0.25,0.3,0.35,0.4,0.45,0.5,0.55,0.6,0.65,0.7,0.75,0.8,0.85,0.9,0.95,1,1.05],"labelExpr":"indexof([0.2,0.4,0.6,0.8,1], datum.value) >= 0 ? datum.label : ''"}},
"color":{"field":"s","type":"nominal","scale":{"domain":["9 rows","18 rows","27 rows","36 rows","Infinite"],"range":["#e00000","#0f7a0f","#ff9a10","#1010f0","#5a5a5a"]},"legend":{"orient":"none","direction":"horizontal","legendX":142,"legendY":-54,"title":null}},
"strokeDash":{"field":"s","type":"nominal","scale":{"domain":["9 rows","18 rows","27 rows","36 rows","Infinite"],"range":[[1,0],[7,4],[6,2,1.5,2],[1.5,1.5],[8,5]]},"legend":{"orient":"none","direction":"horizontal","legendX":142,"legendY":-54,"title":null}},
"strokeWidth":{"field":"s","type":"nominal","scale":{"domain":["9 rows","18 rows","27 rows","36 rows","Infinite"],"range":[2.4,2.4,2,2.2,1.2]},"legend":null}
}},
{"width":414,"height":206,"title":{"text":"7D staggered","dx":40},
"transform":[{"filter":"datum.p=='7DS'"}],
"mark":{"type":"line","clip":true,"interpolate":"monotone"},
"encoding":{
"x":{"field":"x","type":"quantitative","scale":{"domain":[-1.03,10],"nice":false,"zero":false},"axis":{"title":"xwake(km)","titleFont":"Liberation Serif","titleFontSize":22,"titleFontStyle":"italic","titleFontWeight":"bold","titleColor":"#111","titlePadding":4,"values":[-1,-0.5,0,0.5,1,1.5,2,2.5,3,3.5,4,4.5,5,5.5,6,6.5,7,7.5,8,8.5,9,9.5,10],"labelExpr":"datum.value % 2 == 0 ? datum.label : ''"}},
"y":{"field":"y","type":"quantitative","scale":{"domain":[0.2,1.1],"nice":false,"zero":false},"axis":{"title":null,"values":[0.2,0.25,0.3,0.35,0.4,0.45,0.5,0.55,0.6,0.65,0.7,0.75,0.8,0.85,0.9,0.95,1,1.05],"labelExpr":"indexof([0.2,0.4,0.6,0.8,1], datum.value) >= 0 ? datum.label : ''"}},
"color":{"field":"s","type":"nominal","scale":{"domain":["9 rows","18 rows","27 rows","36 rows","Infinite"],"range":["#e00000","#0f7a0f","#ff9a10","#1010f0","#5a5a5a"]},"legend":{"orient":"none","direction":"horizontal","legendX":142,"legendY":-54,"title":null}},
"strokeDash":{"field":"s","type":"nominal","scale":{"domain":["9 rows","18 rows","27 rows","36 rows","Infinite"],"range":[[1,0],[7,4],[6,2,1.5,2],[1.5,1.5],[8,5]]},"legend":{"orient":"none","direction":"horizontal","legendX":142,"legendY":-54,"title":null}},
"strokeWidth":{"field":"s","type":"nominal","scale":{"domain":["9 rows","18 rows","27 rows","36 rows","Infinite"],"range":[2.4,2.4,2,2.2,1.2]},"legend":null}
}}
],"spacing":19,"resolve":{"scale":{"x":"independent","y":"independent"}}}
]
}
